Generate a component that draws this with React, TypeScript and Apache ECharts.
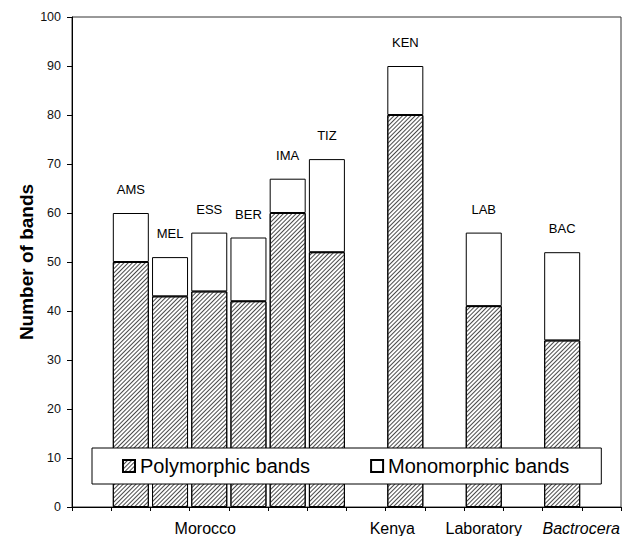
import React, { useEffect, useRef } from "react";
import * as echarts from "echarts";

// 14 category slots along the x axis (empty slots are spacers)
const slotNames = ["", "AMS", "MEL", "ESS", "BER", "IMA", "TIZ", "", "KEN", "", "LAB", "", "BAC", ""];
const groupLabels = ["", "", "", "Morocco", "", "", "", "", "Kenya", "", "Laboratory", "", "Bactrocera", ""];
const polymorphic = [null, 50, 43, 44, 42, 60, 52, null, 80, null, 41, null, 34, null];
const monomorphic = [null, 10, 8, 12, 13, 7, 19, null, 10, null, 15, null, 18, null];
const yTicks = { min: 0, max: 100, interval: 10 };

const FONT = "'Liberation Sans', Arial, sans-serif";

export default function App() {
  const ref = useRef<HTMLDivElement>(null);
  useEffect(() => {
    if (!ref.current) return;
    const chart = echarts.init(ref.current, undefined, { renderer: "svg" });
    const richKey: Record<string, string> = {
      Morocco: "mor",
      Kenya: "ken",
      Laboratory: "lab",
      Bactrocera: "bac",
    };
    chart.setOption({
      animation: false,
      backgroundColor: "#fff",
      textStyle: { fontFamily: FONT },
      grid: {
        left: 72,
        right: 2,
        top: 17,
        bottom: 29,
        outerBoundsMode: "none",
        show: true,
        borderColor: "#333",
        borderWidth: 1,
        backgroundColor: "transparent",
      },
      legend: {
        left: 92,
        top: 448,
        padding: [8, 32, 8, 30],
        itemGap: 60,
        itemWidth: 12,
        itemHeight: 12,
        icon: "rect",
        backgroundColor: "#fff",
        borderColor: "#000",
        borderWidth: 1,
        borderRadius: 0,
        textStyle: { fontSize: 20, color: "#000", fontFamily: FONT },
        data: ["Polymorphic bands", "Monomorphic bands"],
      },
      xAxis: {
        type: "category",
        data: groupLabels,
        boundaryGap: true,
        axisLine: { show: true, lineStyle: { color: "#000", width: 1 } },
        axisTick: { show: true, interval: 0, length: 4, lineStyle: { color: "#000" } },
        axisLabel: {
          interval: 0,
          margin: 13,
          fontSize: 16,
          color: "#000",
          fontFamily: FONT,
          formatter: (v: string) => (v ? `{${richKey[v] || "lab"}|${v}}` : ""),
          rich: {
            mor: { fontSize: 16, color: "#000", padding: [0, 8, 0, 0] },
            ken: { fontSize: 16, color: "#000", padding: [0, 26, 0, 0] },
            lab: { fontSize: 16, color: "#000" },
            bac: { fontSize: 16, color: "#000", fontStyle: "italic", padding: [0, 0, 0, 38] },
          },
        },
        splitLine: { show: false },
      },
      yAxis: {
        type: "value",
        min: yTicks.min,
        max: yTicks.max,
        interval: yTicks.interval,
        name: "Number of bands",
        nameLocation: "middle",
        nameRotate: 90,
        nameGap: 36,
        nameMoveOverlap: false,
        nameTextStyle: {
          fontSize: 19,
          fontWeight: "bold",
          color: "#000",
          fontFamily: FONT,
        },
        axisLine: { show: true, lineStyle: { color: "#000", width: 1 } },
        axisTick: { show: true, length: 5, lineStyle: { color: "#000" } },
        axisLabel: { fontSize: 12.5, color: "#111", margin: 11, fontFamily: FONT },
        splitLine: { show: false },
      },
      series: [
        {
          name: "Polymorphic bands",
          type: "bar",
          stack: "bands",
          barWidth: 36,
          data: polymorphic,
          itemStyle: {
            color: "#fff",
            borderColor: "#000",
            borderWidth: 1,
            decal: {
              symbol: "rect",
              symbolSize: 1,
              dashArrayX: [1, 0],
              dashArrayY: [1, 1.7],
              rotation: -Math.PI / 4,
              color: "#4a4a4a",
            },
          },
        },
        {
          name: "Monomorphic bands",
          type: "bar",
          stack: "bands",
          barWidth: 36,
          data: monomorphic,
          itemStyle: { color: "#fff", borderColor: "#000", borderWidth: 1 },
          label: {
            show: true,
            position: "top",
            distance: 17,
            fontSize: 13,
            color: "#000",
            fontFamily: FONT,
            formatter: (p: any) => slotNames[p.dataIndex],
          },
        },
      ],
    });
    return () => chart.dispose();
  }, []);
  return (
    <div
      ref={ref}
      style={{ position: "fixed", left: 0, top: 0, width: 623, height: 536 }}
    />
  );
}
